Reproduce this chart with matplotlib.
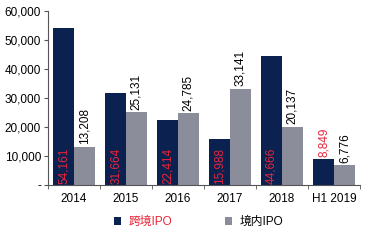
import matplotlib
matplotlib.use("Agg")
import matplotlib.pyplot as plt
import numpy as np

plt.rcParams['font.family'] = ['Liberation Sans', 'Noto Sans CJK SC', 'DejaVu Sans']

years = ["2014", "2015", "2016", "2017", "2018", "H1 2019"]
cross_border = [54161, 31664, 22414, 15988, 44666, 8849]
domestic = [13208, 25131, 24785, 33141, 20137, 6776]
series_names = ["跨境IPO", "境内IPO"]

navy = "#0b2150"
grey = "#8b8d9a"
red = "#e8253a"

fig = plt.figure(figsize=(3.75, 2.4), dpi=100)
ax = fig.add_axes([0.128, 0.229, 0.832, 0.725])

x = np.arange(len(years))
w = 0.4
b1 = ax.bar(x - w / 2, cross_border, w, color=navy, label=series_names[0])
b2 = ax.bar(x + w / 2, domestic, w, color=grey, label=series_names[1])

for i, v in enumerate(cross_border):
    lab = "{:,}".format(v)
    if v > 12000:
        ax.text(x[i] - w / 2, 500, lab, rotation=90, ha="center", va="bottom",
                color=red, fontsize=8.5)
    else:
        ax.text(x[i] - w / 2, v + 900, lab, rotation=90, ha="center", va="bottom",
                color=red, fontsize=8.5)
for i, v in enumerate(domestic):
    ax.text(x[i] + w / 2, v + 900, "{:,}".format(v), rotation=90, ha="center",
            va="bottom", color="black", fontsize=8.5)

ax.set_xlim(-0.5, len(years) - 0.5)
ax.set_ylim(0, 60000)
yt = np.arange(0, 60001, 10000)
ax.set_yticks(yt)
ax.set_yticklabels(["-"] + ["{:,}".format(t) for t in yt[1:]], fontsize=8.5)
ax.set_xticks(x)
ax.set_xticklabels(years, fontsize=8.5)
ax.set_xticks(np.arange(-0.5, len(years), 1), minor=True)
ax.tick_params(axis="x", which="major", length=0, pad=6)
ax.tick_params(axis="x", which="minor", length=3, direction="out", color="#555555")
ax.tick_params(axis="y", length=3, color="#555555", pad=2)

for s in ["top", "right"]:
    ax.spines[s].set_visible(False)
ax.spines["left"].set_color("#555555")
ax.spines["bottom"].set_color("#555555")
ax.spines["left"].set_linewidth(0.8)
ax.spines["bottom"].set_linewidth(0.8)

leg = fig.legend(handles=[b1, b2], loc="center", bbox_to_anchor=(0.53, 0.075),
                 ncol=2, frameon=False, fontsize=8.5, handlelength=0.6,
                 handleheight=0.6, columnspacing=4.5, handletextpad=0.6)
leg.get_texts()[0].set_color(red)

fig.savefig("out.png", dpi=100)
